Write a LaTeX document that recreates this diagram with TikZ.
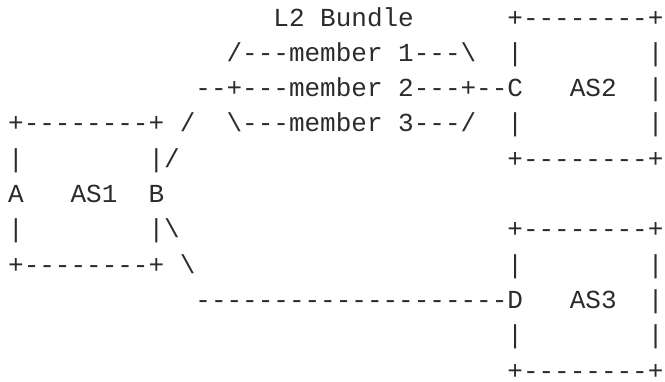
\documentclass[tikz,border=0pt]{standalone}
\usepackage{fontspec}
\setmonofont{Liberation Mono}
\definecolor{ink}{HTML}{2B2B2B}
\tikzset{
  txt/.style={anchor=base west, inner sep=0pt, outer sep=0pt, text=ink,
    text depth=0pt, font=\ttfamily\fontsize{26pt}{26pt}\selectfont}
}
\newcommand{\seg}[4]{\node[txt] (#1) at ({8.2+15.6*#2},{26+35.3*(#3-1)}) {#4};}
\begin{document}
\begin{tikzpicture}[x=1pt,y=-1pt]
\useasboundingbox (0,0) rectangle (665,381);
% row 1
\seg{lL2}{17}{1}{L2}
\seg{lBundle}{20}{1}{Bundle}
\seg{as2top}{32}{1}{+--------+}
% row 2
\seg{m1a}{14}{2}{/---member}
\seg{m1b}{25}{2}{1---\textbackslash}
\seg{as2l1}{32}{2}{|}
\seg{as2r1}{41}{2}{|}
% row 3
\seg{m2a}{12}{3}{--+---member}
\seg{m2b}{25}{3}{2---+--}
\seg{C}{32}{3}{C}
\seg{AStwo}{36}{3}{AS2}
\seg{as2r2}{41}{3}{|}
% row 4
\seg{as1top}{0}{4}{+--------+}
\seg{up1}{11}{4}{/}
\seg{m3a}{14}{4}{\textbackslash---member}
\seg{m3b}{25}{4}{3---/}
\seg{as2l3}{32}{4}{|}
\seg{as2r3}{41}{4}{|}
% row 5
\seg{as1l1}{0}{5}{|}
\seg{as1r1}{9}{5}{|/}
\seg{as2bot}{32}{5}{+--------+}
% row 6
\seg{A}{0}{6}{A}
\seg{ASone}{4}{6}{AS1}
\seg{B}{9}{6}{B}
% row 7
\seg{as1l2}{0}{7}{|}
\seg{as1r2}{9}{7}{|\textbackslash}
\seg{as3top}{32}{7}{+--------+}
% row 8
\seg{as1bot}{0}{8}{+--------+}
\seg{dn1}{11}{8}{\textbackslash}
\seg{as3l1}{32}{8}{|}
\seg{as3r1}{41}{8}{|}
% row 9
\seg{link}{12}{9}{--------------------}
\seg{D}{32}{9}{D}
\seg{ASthree}{36}{9}{AS3}
\seg{as3r2}{41}{9}{|}
% row 10
\seg{as3l3}{32}{10}{|}
\seg{as3r3}{41}{10}{|}
% row 11
\seg{as3bot}{32}{11}{+--------+}
\end{tikzpicture}
\end{document}
